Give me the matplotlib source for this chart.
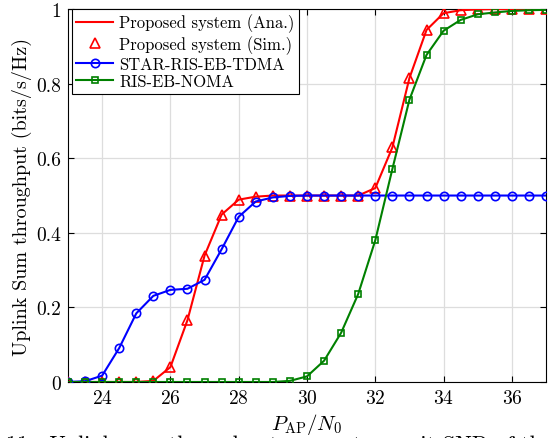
import matplotlib
matplotlib.use('Agg')
import matplotlib.pyplot as plt

# Estilo parecido a LaTeX / MATLAB
plt.rcParams['font.family'] = 'serif'
plt.rcParams['font.serif'] = ['cmr10']
plt.rcParams['mathtext.fontset'] = 'cm'
plt.rcParams['axes.formatter.use_mathtext'] = True

# Datos (P_AP/N0 de 23 a 37 con paso 0.5)
snr = [23, 23.5, 24, 24.5, 25, 25.5, 26, 26.5, 27, 27.5, 28, 28.5, 29, 29.5,
       30, 30.5, 31, 31.5, 32, 32.5, 33, 33.5, 34, 34.5, 35, 35.5, 36, 36.5, 37]

propuesto = [0, 0, 0, 0, 0, 0.003, 0.04, 0.166, 0.339, 0.449, 0.489, 0.497, 0.5, 0.5,
             0.5, 0.5, 0.5, 0.5, 0.52, 0.629, 0.815, 0.944, 0.989, 0.997, 0.999, 1.0, 1.0, 1.0, 1.0]

star_tdma = [0, 0.002, 0.017, 0.091, 0.184, 0.231, 0.247, 0.25, 0.274, 0.356, 0.443, 0.484, 0.495, 0.499,
             0.5, 0.5, 0.5, 0.5, 0.5, 0.5, 0.5, 0.5, 0.5, 0.5, 0.5, 0.5, 0.5, 0.5, 0.5]

ris_noma = [0, 0, 0, 0, 0, 0, 0, 0, 0, 0, 0, 0, 0, 0.003,
            0.015, 0.057, 0.132, 0.236, 0.38, 0.571, 0.757, 0.877, 0.942, 0.971, 0.986, 0.991, 0.995, 0.997, 0.998]

etiquetas = ['Proposed system (Ana.)', 'Proposed system (Sim.)', 'STAR-RIS-EB-TDMA', 'RIS-EB-NOMA']

fig = plt.figure(figsize=(5.55, 4.39), dpi=100)
ax = fig.add_axes([0.1225, 0.1276, 0.8613, 0.8494])

ax.plot(snr, propuesto, color='red', lw=1.5, label=etiquetas[0], zorder=3)
ax.plot(snr, propuesto, ls='none', marker='^', ms=7, mfc='none', mec='red', mew=1.2,
        label=etiquetas[1], zorder=3)
ax.plot(snr, star_tdma, color='blue', lw=1.5, marker='o', ms=6, mfc='none', mew=1.2,
        label=etiquetas[2], zorder=4)
ax.plot(snr, ris_noma, color='green', lw=1.5, marker='s', ms=4.5, mfc='none', mew=1.2,
        label=etiquetas[3], zorder=5)

ax.set_xlim(23, 37)
ax.set_ylim(0, 1)
ax.set_xticks([24, 26, 28, 30, 32, 34, 36])
ax.set_yticks([0, 0.2, 0.4, 0.6, 0.8, 1])
ax.set_yticklabels(['0', '0.2', '0.4', '0.6', '0.8', '1'])
ax.tick_params(direction='in', top=True, right=True, labelsize=14, length=4, pad=5)
ax.grid(True, color='#dddddd', lw=0.9)
ax.set_axisbelow(True)

ax.set_xlabel(r'$P_{\rm AP}/N_0$', fontsize=15, labelpad=3)
ax.set_ylabel('Uplink Sum throughput (bits/s/Hz)', fontsize=14.5, labelpad=3)

leg = ax.legend(loc='upper left', bbox_to_anchor=(0.008, 1.0), borderaxespad=0,
                fontsize=12, fancybox=False, framealpha=1, edgecolor='black',
                handlelength=2.2, borderpad=0.28, labelspacing=0.15, handletextpad=0.35)
leg.get_frame().set_linewidth(0.8)

# Pie de figura recortado por abajo
fig.text(0.01, 0.009, '11.  Uplink sum throughput versus transmit SNR of the',
         fontsize=16, va='top', ha='left')

fig.savefig('out.png', dpi=100)
